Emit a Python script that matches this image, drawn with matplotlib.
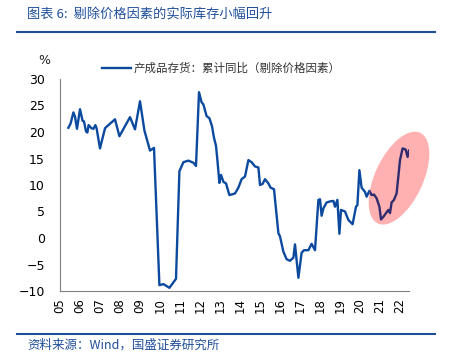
import matplotlib
matplotlib.use("Agg")
import matplotlib.pyplot as plt
from matplotlib.patches import Ellipse
from matplotlib.transforms import ScaledTranslation
from matplotlib.lines import Line2D

plt.rcParams['font.family'] = ['Noto Sans CJK SC', 'DejaVu Sans']

# ---- data ----
t = [2005.42, 2005.53, 2005.67, 2005.75, 2005.85, 2006.0, 2006.13, 2006.2, 2006.3, 2006.37,
     2006.43, 2006.58, 2006.67, 2006.77, 2006.83, 2007.0, 2007.25, 2007.33, 2007.75, 2007.97,
     2008.5, 2008.75, 2009.0, 2009.22, 2009.5, 2009.7, 2009.97, 2010.17, 2010.47, 2010.8,
     2010.97, 2011.17, 2011.42, 2011.67, 2011.8, 2011.95, 2012.08, 2012.17, 2012.33, 2012.47,
     2012.6, 2012.7, 2012.8, 2012.87, 2012.97, 2013.05, 2013.17, 2013.3, 2013.47, 2013.75,
     2013.92, 2014.08, 2014.25, 2014.42, 2014.58, 2014.75, 2014.92, 2015.0, 2015.13, 2015.25,
     2015.42, 2015.53, 2015.7, 2015.92, 2016.0, 2016.17, 2016.33, 2016.5, 2016.67, 2016.75,
     2016.92, 2017.08, 2017.2, 2017.42, 2017.58, 2017.75, 2017.92, 2018.0, 2018.08, 2018.17,
     2018.33, 2018.5, 2018.67, 2018.75, 2018.87, 2018.97, 2019.05, 2019.25, 2019.42, 2019.63,
     2019.8, 2019.87, 2019.97, 2020.08, 2020.25, 2020.33, 2020.47, 2020.58, 2020.7, 2020.83,
     2020.97, 2021.05, 2021.17, 2021.3, 2021.42, 2021.5, 2021.58, 2021.7, 2021.83, 2022.0,
     2022.13, 2022.28, 2022.38, 2022.45]
v = [20.8, 21.6, 23.7, 22.9, 20.6, 24.3, 22.1, 22.0, 20.1, 19.9,
     21.3, 20.7, 20.6, 21.3, 20.7, 16.9, 20.7, 21.0, 22.4, 19.2,
     22.8, 20.5, 25.8, 20.3, 16.5, 17.0, -8.9, -8.7, -9.4, -7.7,
     12.6, 14.3, 14.6, 14.2, 13.6, 27.5, 25.6, 25.2, 23.0, 22.6,
     21.1, 18.9, 17.4, 14.7, 10.4, 11.9, 10.6, 10.3, 8.1, 8.4,
     9.5, 11.1, 11.6, 14.7, 14.3, 13.5, 13.3, 10.0, 10.2, 11.1,
     10.3, 9.5, 9.2, 0.9, 0.3, -2.6, -4.0, -4.3, -3.7, -1.2,
     -7.5, -2.8, -2.3, -2.3, -1.1, -2.3, 7.2, 7.3, 4.2, 5.6,
     6.7, 6.9, 7.0, 5.9, 7.2, 0.8, 5.3, 5.0, 3.4, 2.6,
     5.9, 6.2, 12.8, 9.5, 8.7, 7.8, 8.9, 8.1, 8.2, 7.5,
     5.9, 3.5, 4.0, 4.7, 5.3, 4.7, 6.7, 7.2, 8.4, 14.7,
     16.9, 16.7, 15.3, 16.5]
years = list(range(2005, 2023))
year_labels = [f"{y % 100:02d}" for y in years]
series_name = "产成品存货：累计同比（剔除价格因素）"

BLUE = "#0B4A9E"
DARK = "#2F2B6E"
TITLE_BLUE = "#1F4E9A"

fig = plt.figure(figsize=(4.52, 3.54), dpi=100)
ax = fig.add_axes([60/452, (354-291)/354, 349/452, 212/354])

ax.plot(t, v, color=BLUE, lw=1.7, solid_joinstyle='round', zorder=2)

# highlight ellipse (pixel-sized, centred at a data point)
ell = Ellipse((0, 0), 0.48, 1.0, angle=-25, facecolor="#FFB0B0", edgecolor='none',
              transform=fig.dpi_scale_trans + ScaledTranslation(2021.95, 11.3, ax.transData),
              zorder=3, clip_on=False)
ax.add_patch(ell)
hl, = ax.plot(t, v, color=DARK, lw=1.7, solid_joinstyle='round', zorder=4)
hl.set_clip_path(ell)

ax.set_xlim(2005, 2022.45)
ax.set_ylim(-10, 30)
ax.set_yticks(range(-10, 31, 5))
ax.set_xticks(years)
ax.set_xticklabels(year_labels, rotation=90, fontsize=8.5, family='DejaVu Sans')
for lab in ax.get_yticklabels():
    lab.set_family('DejaVu Sans')
ax.tick_params(axis='y', length=0, pad=11, labelsize=9)
ax.tick_params(axis='x', length=0, pad=5)
for s in ['top', 'right']:
    ax.spines[s].set_visible(False)
ax.spines['left'].set_color('#808080')
ax.spines['bottom'].set_color('#808080')
ax.spines['left'].set_linewidth(0.8)
ax.spines['bottom'].set_linewidth(0.8)

# legend
fig.add_artist(Line2D([102/452, 131/452], [1-68/354, 1-68/354], color=BLUE, lw=1.7))
fig.text(134/452, 1-68/354, series_name, fontsize=8.3, color='#333333', va='center', ha='left')
fig.text(38/452, 1-60/354, "%", fontsize=9, color='#222222', va='center', ha='left',
         family='DejaVu Sans')

# title and source
fig.text(27/452, 1-15/354, "图表 6:  剔除价格因素的实际库存小幅回升", fontsize=9.5,
         color=TITLE_BLUE, va='center', ha='left', style='italic')
fig.add_artist(Line2D([17/452, 435/452], [1-31.5/354, 1-31.5/354], color=TITLE_BLUE, lw=1.5))
fig.add_artist(Line2D([17/452, 435/452], [1-334/354, 1-334/354], color=TITLE_BLUE, lw=1.5))
fig.text(27/452, 1-345/354, "资料来源：Wind，国盛证券研究所", fontsize=9,
         color=TITLE_BLUE, va='center', ha='left', style='italic')

fig.savefig("out.png", dpi=100)
